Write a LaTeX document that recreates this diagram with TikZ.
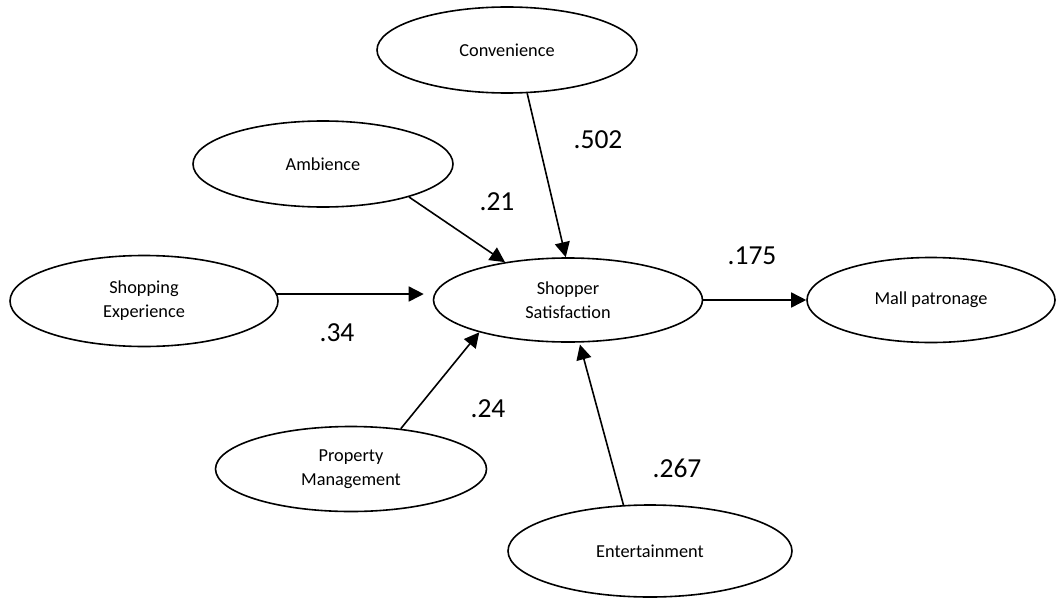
\documentclass[tikz,border=0pt]{standalone}
\usepackage{fontspec}
\setmainfont{Carlito}
\usetikzlibrary{shapes.geometric,arrows.meta}

\begin{document}
\begin{tikzpicture}[x=1pt,y=-1pt,
	var/.style={ellipse,draw,line width=1.6pt,inner sep=0pt,align=center,font=\fontsize{18.3}{24}\selectfont},
	link/.style={line width=1.6pt,-{Triangle[length=15pt,width=15pt]}},
	coef/.style={font=\fontsize{27.5}{33}\selectfont}]
            		\useasboundingbox (0,0) rectangle (1056,599);

            		\node (conv) at (507,50) [var,minimum width=260pt,minimum height=86pt] {Convenience};
            		\node (amb) at (323,164) [var,minimum width=260pt,minimum height=86pt] {Ambience};
            		\node (se) at (144,301) [var,minimum width=268pt,minimum height=91pt] {Shopping\\Experience};
            		\node (ss) at (568,300) [var,minimum width=269pt,minimum height=84pt] {Shopper\\Satisfaction};
            		\node (mp) at (931,300) [var,minimum width=248pt,minimum height=85pt] {Mall patronage};
            		\node (pm) at (351,469) [var,minimum width=271pt,minimum height=85pt] {Property\\Management};
            		\node (ent) at (650,551) [var,minimum width=284pt,minimum height=92pt] {Entertainment};

            		\node (c502) at (598,140) [coef] {.502};
            		\node (c21) at (497,202) [coef] {.21};
            		\node (c175) at (752,256) [coef] {.175};
            		\node (c34) at (337,333) [coef] {.34};
            		\node (c24) at (488,409) [coef] {.24};
            		\node (c267) at (677,468) [coef] {.267};

            		\draw[link] (conv.-65) -- (ss.93);
            		\draw[link] (amb.-21) -- (ss.149);
            		\draw[link,shorten >=9pt] (se.3) -- (se.3 -| ss.west);
            		\draw[link] (pm.39) -- (ss.200);
            		\draw[link,shorten >=2pt] (ent.120) -- (ss.-75);
            		\draw[link] (ss.east) -- (mp.west);

        		\end{tikzpicture}
\end{document}
